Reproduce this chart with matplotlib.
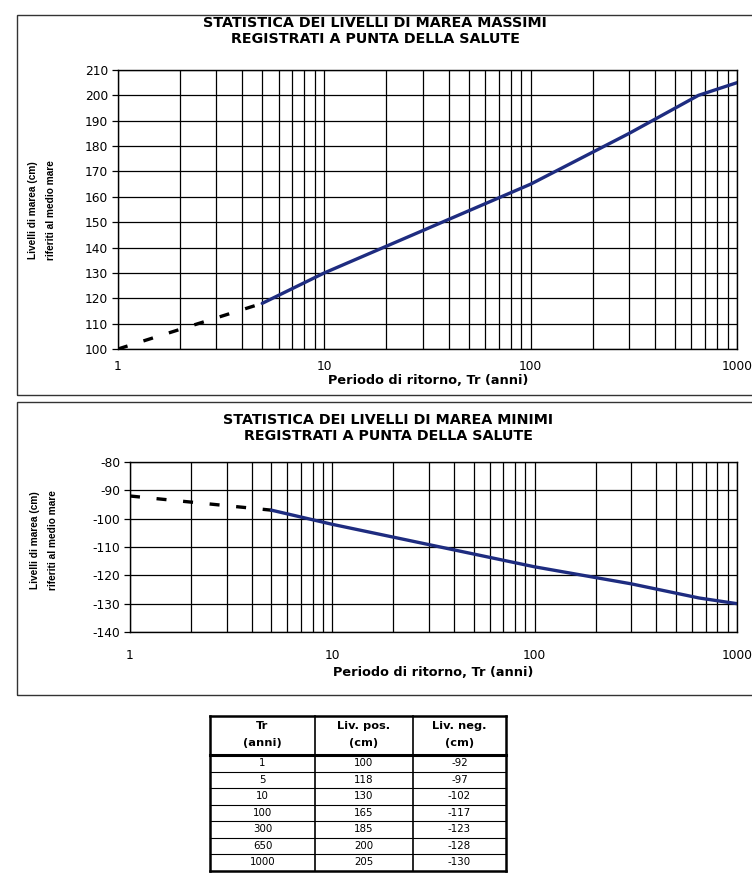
import matplotlib
matplotlib.use("Agg")
import matplotlib.pyplot as plt
from matplotlib.patches import Rectangle
from matplotlib.lines import Line2D
from matplotlib.ticker import FixedLocator, NullFormatter

plt.rcParams['font.family'] = ['DejaVu Sans']

# Return period (years) and tide levels (cm, referred to mean sea level)
tr_years = [1, 5, 10, 100, 300, 650, 1000]
liv_pos = [100, 118, 130, 165, 185, 200, 205]
liv_neg = [-92, -97, -102, -117, -123, -128, -130]

tr_labels = ["1", "5", "10", "100", "300", "650", "1000"]
header = [("Tr", "(anni)"), ("Liv. pos.", "(cm)"), ("Liv. neg.", "(cm)")]

title_max = "STATISTICA DEI LIVELLI DI MAREA MASSIMI\nREGISTRATI A PUNTA DELLA SALUTE"
title_min = "STATISTICA DEI LIVELLI DI MAREA MINIMI\nREGISTRATI A PUNTA DELLA SALUTE"
xlabel = "Periodo di ritorno, Tr (anni)"
ylabel = "Livelli di marea (cm)\nriferiti al medio mare"

W, H = 752, 875
fig = plt.figure(figsize=(W / 100, H / 100), dpi=100)
fig.patch.set_facecolor("white")

LINE_COLOR = "#1e2c80"
narrow = ['Liberation Sans Narrow', 'Liberation Sans', 'DejaVu Sans']


def fx(px):
    return px / W


def fy(py):
    return 1 - py / H


# Outer frames around each chart
for (x0, y0, x1, y1) in [(17, 15, 760, 395), (17, 402, 760, 695)]:
    fig.add_artist(Rectangle((fx(x0), fy(y1)), fx(x1 - x0), (y1 - y0) / H,
                             transform=fig.transFigure, fill=False,
                             edgecolor="#333333", linewidth=1.0))


def draw_chart(rect, values, ylim, yticks):
    ax = fig.add_axes(rect)
    ax.set_xscale("log")
    ax.set_xlim(1, 1000)
    ax.set_ylim(*ylim)
    ax.set_yticks(yticks)
    ax.set_yticklabels([str(v) for v in yticks], fontsize=8.8)
    ax.xaxis.set_major_locator(FixedLocator([1, 10, 100, 1000]))
    ax.set_xticklabels(["1", "10", "100", "1000"], fontsize=8.8)
    minors = [m * d for d in (1, 10, 100) for m in range(2, 10)]
    ax.xaxis.set_minor_locator(FixedLocator(minors))
    ax.xaxis.set_minor_formatter(NullFormatter())
    ax.grid(True, which="both", axis="x", color="black", linewidth=0.9)
    ax.grid(True, which="major", axis="y", color="black", linewidth=0.9)
    ax.tick_params(axis="x", which="both", length=0, pad=8)
    ax.tick_params(axis="y", length=4, width=0.9, pad=3)
    for s in ax.spines.values():
        s.set_linewidth(1.0)
    # extrapolated part (dashed) and fitted part (solid)
    ax.plot(tr_years[:2], values[:2], color="black", linewidth=2.4,
            linestyle=(0, (3, 5)), solid_capstyle="butt")
    ax.plot(tr_years[1:], values[1:], color=LINE_COLOR, linewidth=2.4,
            solid_capstyle="round")
    return ax


# Top chart: maximum levels
ax1 = draw_chart([fx(118), fy(349), fx(737 - 118), (349 - 70) / H],
                 liv_pos, (100, 210), list(range(100, 211, 10)))
fig.text(fx(375), fy(31), title_max, ha="center", va="center",
         fontsize=10.3, fontweight="bold", linespacing=1.1)
fig.text(fx(428), fy(380), xlabel, ha="center", va="center",
         fontsize=9.3, fontweight="bold")
fig.text(fx(42), fy(210), ylabel, ha="center", va="center", rotation=90,
         fontsize=7.3, fontweight="bold", family=narrow, linespacing=2.0)

# Bottom chart: minimum levels
ax2 = draw_chart([fx(130), fy(632), fx(737 - 130), (632 - 462) / H],
                 liv_neg, (-140, -80), list(range(-140, -79, 10)))
ax2.tick_params(axis="x", which="both", pad=12)
fig.text(fx(388), fy(428), title_min, ha="center", va="center",
         fontsize=10.3, fontweight="bold", linespacing=1.1)
fig.text(fx(433), fy(673), xlabel, ha="center", va="center",
         fontsize=9.3, fontweight="bold")
fig.text(fx(44), fy(540), ylabel, ha="center", va="center", rotation=90,
         fontsize=7.3, fontweight="bold", family=narrow, linespacing=2.0)

# Table of values
tx0, tx1 = 210, 506
col_edges = [210, 315, 413, 506]
ty_top, ty_head = 716, 755
row_h = 16.5
n_rows = len(tr_years)
ty_bot = ty_head + n_rows * row_h

tab_lines = []
tab_lines.append(((tx0, ty_top), (tx1, ty_top), 1.8))
tab_lines.append(((tx0, ty_head), (tx1, ty_head), 2.2))
tab_lines.append(((tx0, ty_bot), (tx1, ty_bot), 1.8))
for i in range(1, n_rows):
    y = ty_head + i * row_h
    tab_lines.append(((tx0, y), (tx1, y), 0.8))
for j, x in enumerate(col_edges):
    lw = 1.8 if j in (0, len(col_edges) - 1) else 1.2
    tab_lines.append(((x, ty_top), (x, ty_bot), lw))
for (p0, p1, lw) in tab_lines:
    fig.add_artist(Line2D([fx(p0[0]), fx(p1[0])], [fy(p0[1]), fy(p1[1])],
                          transform=fig.transFigure, color="black",
                          linewidth=lw))

for j, (h1, h2) in enumerate(header):
    cx = (col_edges[j] + col_edges[j + 1]) / 2
    fig.text(fx(cx), fy(726), h1, ha="center", va="center",
             fontsize=8.2, fontweight="bold")
    fig.text(fx(cx), fy(743), h2, ha="center", va="center",
             fontsize=8.2, fontweight="bold")

for i in range(n_rows):
    cy = ty_head + (i + 0.5) * row_h
    cells = [tr_labels[i], str(liv_pos[i]), str(liv_neg[i])]
    for j, txt in enumerate(cells):
        cx = (col_edges[j] + col_edges[j + 1]) / 2
        fig.text(fx(cx), fy(cy), txt, ha="center", va="center", fontsize=7.4)

fig.savefig("out.png", dpi=100, facecolor="white")
